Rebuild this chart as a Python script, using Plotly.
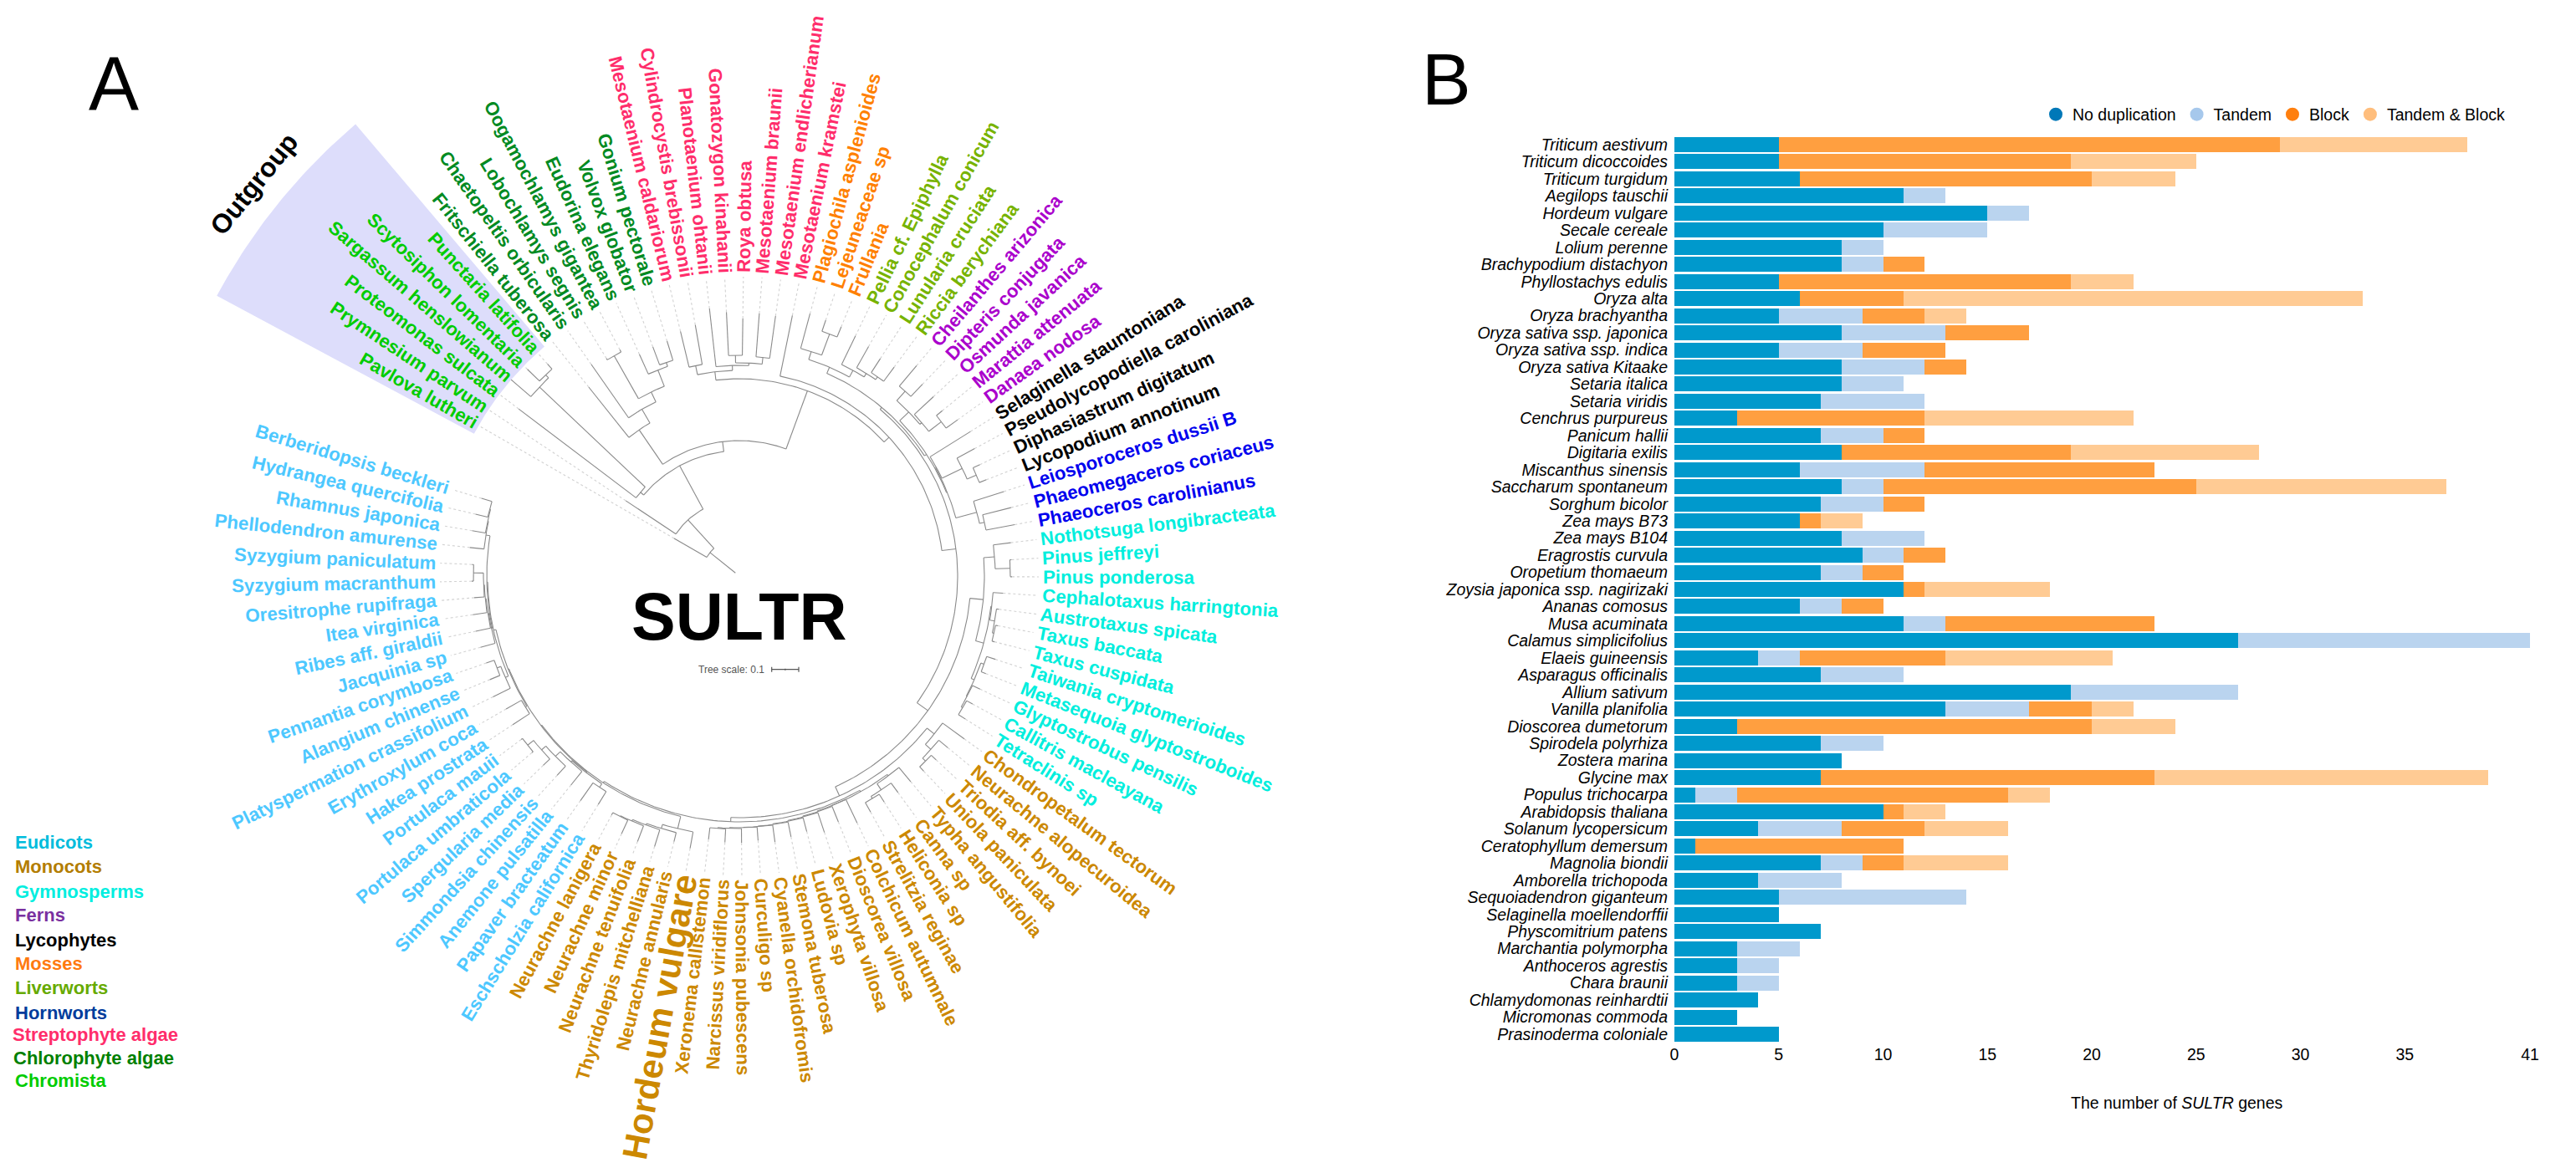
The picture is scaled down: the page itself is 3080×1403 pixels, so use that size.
import math
import plotly.graph_objects as go

W, H = 3080, 1403

# ---------- Panel B data ----------
species = ["Triticum aestivum","Triticum dicoccoides","Triticum turgidum","Aegilops tauschii","Hordeum vulgare",
 "Secale cereale","Lolium perenne","Brachypodium distachyon","Phyllostachys edulis","Oryza alta","Oryza brachyantha",
 "Oryza sativa ssp. japonica","Oryza sativa ssp. indica","Oryza sativa Kitaake","Setaria italica","Setaria viridis",
 "Cenchrus purpureus","Panicum hallii","Digitaria exilis","Miscanthus sinensis","Saccharum spontaneum","Sorghum bicolor",
 "Zea mays B73","Zea mays B104","Eragrostis curvula","Oropetium thomaeum","Zoysia japonica ssp. nagirizaki","Ananas comosus",
 "Musa acuminata","Calamus simplicifolius","Elaeis guineensis","Asparagus officinalis","Allium sativum","Vanilla planifolia",
 "Dioscorea dumetorum","Spirodela polyrhiza","Zostera marina","Glycine max","Populus trichocarpa","Arabidopsis thaliana",
 "Solanum lycopersicum","Ceratophyllum demersum","Magnolia biondii","Amborella trichopoda","Sequoiadendron giganteum",
 "Selaginella moellendorffii","Physcomitrium patens","Marchantia polymorpha","Anthoceros agrestis","Chara braunii",
 "Chlamydomonas reinhardtii","Micromonas commoda","Prasinoderma coloniale"]
no_dup = [5,5,6,11,15,10,8,8,5,6,5,8,5,8,8,7,3,7,8,6,8,7,6,8,9,7,11,6,11,27,4,7,19,13,3,7,8,7,1,10,4,1,7,4,5,5,7,3,3,3,4,3,5]
tandem = [0,0,0,2,2,5,2,2,0,0,4,5,4,4,3,5,0,3,0,6,2,3,0,4,2,2,0,2,2,14,2,4,8,4,0,3,0,0,2,0,4,0,2,4,9,0,0,3,2,2,0,0,0]
block  = [24,14,14,0,0,0,0,2,14,5,3,4,4,2,0,0,9,2,11,11,15,2,1,0,2,2,1,2,10,0,7,0,0,3,17,0,0,16,13,1,4,10,2,0,0,0,0,0,0,0,0,0,0]
both   = [9,6,4,0,0,0,0,0,3,22,2,0,0,0,0,0,10,0,9,0,12,0,2,0,0,0,6,0,0,0,8,0,0,2,4,0,0,16,2,2,4,0,5,0,0,0,0,0,0,0,0,0,0]
series_names = ["No duplication","Tandem","Block","Tandem & Block"]
x_ticks = [0,5,10,15,20,25,30,35,41]

# ---------- Panel A data (tree leaves clockwise, grouped by lineage) ----------
chromista = ["Pavlova lutheri","Prymnesium parvum","Proteomonas sulcata","Sargassum henslowianum","Scytosiphon lomentaria","Punctaria latifolia"]
chlorophyte = ["Fritschiella tuberosa","Chaetopeltis orbicularis","Lobochlamys segnis","Oogamochlamys gigantea","Eudorina elegans","Volvox globator","Gonium pectorale"]
streptophyte = ["Mesotaenium caldariorum","Cylindrocystis brebissonii","Planotaenium ohtanii","Gonatozygon kinahanii","Roya obtusa","Mesotaenium braunii","Mesotaenium endlicherianum","Mesotaenium kramstei"]
mosses = ["Plagiochila asplenioides","Lejeuneaceae sp","Frullania"]
liverworts = ["Pellia cf. Epiphylla","Conocephalum conicum","Lunularia cruciata","Riccia berychiana"]
ferns = ["Cheilanthes arizonica","Dipteris conjugata","Osmunda javanica","Marattia attenuata","Danaea nodosa"]
lycophytes = ["Selaginella stauntoniana","Pseudolycopodiella caroliniana","Diphasiastrum digitatum","Lycopodium annotinum"]
hornworts = ["Leiosporoceros dussii B","Phaeomegaceros coriaceus","Phaeoceros carolinianus"]
gymnosperms = ["Nothotsuga longibracteata","Pinus jeffreyi","Pinus ponderosa","Cephalotaxus harringtonia","Austrotaxus spicata","Taxus baccata","Taxus cuspidata","Taiwania cryptomerioides","Metasequoia glyptostroboides","Glyptostrobus pensilis","Callitris macleayana","Tetraclinis sp"]
monocots = ["Chondropetalum tectorum","Neurachne alopecuroidea","Triodia aff. bynoei","Uniola paniculata","Typha angustifolia","Canna sp","Heliconia sp","Strelitzia reginae","Colchicum autumnale","Dioscorea villosa","Xerophyta villosa","Ludovia sp","Stemona tuberosa","Cyanella orchidofromis","Curculigo sp","Johnsonia pubescens","Narcissus viridiflorus","Xeronema callistemon","Hordeum vulgare","Neurachne annularis","Thyridolepis mitchelliana","Neurachne tenuifolia","Neurachne minor","Neurachne lanigera"]
eudicots = ["Eschscholzia californica","Papaver bracteatum","Anemone pulsatilla","Simmondsia chinensis","Spergularia media","Portulaca umbraticola","Portulaca mauii","Hakea prostrata","Erythroxylum coca","Platyspermation crassifolium","Alangium chinense","Pennantia corymbosa","Jacquinia sp","Ribes aff. giraldii","Itea virginica","Oresitrophe rupifraga","Syzygium macranthum","Syzygium paniculatum","Phellodendron amurense","Rhamnus japonica","Hydrangea quercifolia","Berberidopsis beckleri"]
lineage_key = ["Eudicots","Monocots","Gymnosperms","Ferns","Lycophytes","Mosses","Liverworts","Hornworts","Streptophyte algae","Chlorophyte algae","Chromista"]

# Node depth: [node depth, child, child...]; a bare number is a leaf's tip depth.
t_chromista = [155, 331, [329, 360, [334, 354, 342]]]
t_chloro = [212, 289, [231, 309, [244, [303, 305, 306], [265, 291, [270, 293, 294]]]]]
t_zygnema = [246, [257, 301, 305], [252, 322, [255, [264, 316, 308], [263, 315, 314]]]]
t_mosses = [282, 325, [309, 323, 322]]
t_liver = [281, 319, [286, 315, [290, 310, 311]]]
t_ferns = [282, [297, 329, 317], [285, 316, [304, 313, 321]]]
t_lyco = [269, 326, [296, 320, [308, 317, 317]]]
t_horn = [294, 332, [300, 335, 335]]
t_pinaceae = [306, 327, [324, 326, 326]]
t_taxa = [304, 316, [310, 313, [312, 315, 315]]]
t_cupress = [307, [311, 322, 317], [308, 318, [310, 318, 320]]]
t_gymn = [293, t_pinaceae, [303, t_taxa, t_cupress]]
t_mono_a = [300, 332, [309, 323, [314, 322, 321]]]
t_mono_b = [298, 320, [307, 321, [310, 321, 323]]]
t_mono_c = [296, 327, [297, 317, [298, 323, [299, 316, [300, 318, [300.5, 321, [301, 317, [302, 319, [303, 319, 317]]]]]]]]]
t_poales = [311, 331, [316, 327, [318, 339, [320, 340, [321, 339, 324]]]]]
t_eud1 = [298, [303, 321, 329], [300, 321, [308, 323, [315, 326, [324, 326, 326]]]]]
t_eud2 = [298, [300, 324, 321], [301, [305, 328, [310, 323, 320]],
          [302, [303, 321, [304, 322, [305, 322, [306, 318, [318, 320, 320]]]]], [307, 324, [308, 324, [309, 324, 322]]]]]]
t_angio = [289, t_mono_a, [294, [296, t_mono_b, t_mono_c], [296, t_poales, [297, t_eud1, t_eud2]]]]
t_land = [261, [264, [272, t_mosses, t_liver], [267, t_ferns, [268, t_lyco, t_horn]]], [277, t_gymn, t_angio]]
tree = [45, 90, [91, 163, [150, t_chromista, [162, t_chloro, [236, t_zygnema, [244, 318, t_land]]]]]]

# ---------- Geometry and styles ----------
CX, CY = 884, 689
R_LABEL = 363
R_DASH = 358
TH0 = 210.0
STEP = 3.575
FONT = "Liberation Sans"
LABEL_SIZE = 22.3

ARIAL_BOLD = dict(zip("abcdefghijklmnopqrstuvwxyz",
    [556,611,556,611,556,333,611,611,278,278,556,278,889,611,611,611,611,389,556,333,611,556,778,556,556,500]))
ARIAL_BOLD.update(dict(zip("ABCDEFGHIJKLMNOPQRSTUVWXYZ",
    [722,722,722,722,667,611,778,722,278,556,722,611,833,722,778,667,778,722,667,611,722,667,944,667,667,611])))
ARIAL_BOLD.update({" ": 278, ".": 278})

def text_w(s, size):
    return sum(ARIAL_BOLD.get(c, 556) for c in s) * size / 1000

def pol(r, th):
    a = math.radians(th)
    return CX + r * math.cos(a), CY + r * math.sin(a)

groups = [(chromista,"#00CC00"),(chlorophyte,"#008A22"),(streptophyte,"#FF2D6B"),(mosses,"#FF8000"),(liverworts,"#77B300"),
          (ferns,"#AA00CC"),(lycophytes,"#000000"),(hornworts,"#0000EE"),(gymnosperms,"#00EEDD"),(monocots,"#CC8800"),(eudicots,"#4DC8FF")]
key_colors = ["#00BCDC","#B37D00","#00EEE0","#7A30A0","#000000","#FF7A10","#66AA00","#003C9C","#FF2D6B","#008000","#00CC00"]
leaves, leaf_colors = [], []
for names, col in groups:
    leaves += names
    leaf_colors += [col] * len(names)

sx, sy, dx, dy = [], [], [], []
counter = [0]

def seg(xs, ys, r0, r1, th):
    a, b = pol(r0, th), pol(r1, th)
    xs += [a[0], b[0], None]
    ys += [a[1], b[1], None]

def walk(node):
    if not isinstance(node, list):
        th = TH0 + STEP * counter[0]
        counter[0] += 1
        return th, node
    depth, kids = node[0], node[1:]
    info = [walk(k) for k in kids]
    lo, hi = info[0][0], info[-1][0]
    for kid, (th, d) in zip(kids, info):
        seg(sx, sy, depth, d, th)
        if not isinstance(kid, list):
            seg(dx, dy, d, R_DASH, th)
    n = max(2, int(hi - lo))
    for i in range(n + 1):
        p = pol(depth, lo + (hi - lo) * i / n)
        sx.append(p[0]); sy.append(p[1])
    sx.append(None); sy.append(None)
    return (lo + hi) / 2, depth

root_th, root_d = walk(tree)
seg(sx, sy, 6, root_d, root_th)

fig = go.Figure()

# Outgroup wedge spanning the Chromista clade
th_a = TH0 - STEP / 2
th_b = TH0 + STEP * (len(chromista) - 0.5)
wx, wy = [], []
for i in range(41):
    p = pol(360, th_a + (th_b - th_a) * i / 40); wx.append(p[0]); wy.append(p[1])
for i in range(41):
    p = pol(709, th_b - (th_b - th_a) * i / 40); wx.append(p[0]); wy.append(p[1])
fig.add_trace(go.Scatter(x=wx, y=wy, mode="lines", fill="toself", fillcolor="#DDDDFB", line=dict(width=0),
                         hoverinfo="skip", showlegend=False, xaxis="x", yaxis="y"))
fig.add_trace(go.Scatter(x=dx, y=dy, mode="lines", line=dict(color="#D2D2D2", width=1.1, dash="3px,3px"),
                         hoverinfo="skip", showlegend=False, xaxis="x", yaxis="y"))
fig.add_trace(go.Scatter(x=sx, y=sy, mode="lines", line=dict(color="#8A8A8A", width=1.1),
                         hoverinfo="skip", showlegend=False, xaxis="x", yaxis="y"))
# Tree scale bar
bar_x0, bar_x1, bar_y = 922.7, 955, 800.7
fig.add_trace(go.Scatter(
    x=[bar_x0, bar_x1, None, bar_x0, bar_x0, None, bar_x1, bar_x1, None, (bar_x0+bar_x1)/2, (bar_x0+bar_x1)/2],
    y=[bar_y, bar_y, None, bar_y-3, bar_y+3, None, bar_y-3, bar_y+3, None, bar_y-1, bar_y+1],
    mode="lines", line=dict(color="#555555", width=1.2), hoverinfo="skip", showlegend=False, xaxis="x", yaxis="y"))

# Stacked bars
bar_cols = ["#0099CC", "#BAD4EF", "#FF9F40", "#FFCB94"]
key_cols = ["#0078B8", "#A6C8EC", "#FF7F0E", "#FFBE7D"]
for name, vals, col in zip(series_names, [no_dup, tandem, block, both], bar_cols):
    fig.add_trace(go.Bar(y=species, x=vals, name=name, orientation="h", marker=dict(color=col, line=dict(width=0)),
                         showlegend=False, xaxis="x2", yaxis="y2"))
for name, col in zip(series_names, key_cols):
    fig.add_trace(go.Scatter(x=[None], y=[None], name=name, mode="markers",
                             marker=dict(color=col, size=17, symbol="circle"), xaxis="x2", yaxis="y2"))

ann = []
for i, (name, col) in enumerate(zip(leaves, leaf_colors)):
    th = TH0 + STEP * i
    size = 42 if name == "Hordeum vulgare" else LABEL_SIZE
    px, py = pol(R_LABEL + text_w(name, size) / 2, th)
    if th < 270:
        ang = th - 180
    elif th < 450:
        ang = th - 360
    else:
        ang = th - 540
    ann.append(dict(x=px, y=py, xref="x", yref="y", text=f"<b>{name}</b>", showarrow=False, xanchor="center", yanchor="middle",
                    textangle=ang, font=dict(family=FONT, size=size, color=col)))

def label(x, y, text, size, color="#000000", anchor="center", angle=0):
    ann.append(dict(x=x, y=y, xref="x", yref="y", text=text, showarrow=False, xanchor=anchor, yanchor="middle",
                    textangle=angle, font=dict(family=FONT, size=size, color=color)))

key_y = [1007, 1036, 1066, 1094, 1124, 1152, 1181, 1211, 1237, 1265, 1292]
key_x = [16, 16, 16, 16, 16, 16, 16, 16, 13, 14, 16]
for name, col, kx, ky in zip(lineage_key, key_colors, key_x, key_y):
    label(kx, ky, f"<b>{name}</b>", 22, col, "left")

mid = (th_a + th_b) / 2
ox, oy = pol(746, mid)
label(ox, oy, "<b>Outgroup</b>", 32, "#000000", "center", mid - 270)
label(136, 100, "A", 90)
label(1729, 94, "B", 88)
label(883, 737, "<b>SULTR</b>", 79)
label(874, 801, "Tree scale: 0.1", 12, "#555555")
label(2603, 1319, "The number of <i>SULTR</i> genes", 19.5)

row_top = 162.8
row_bot = 1247.2
fig.update_layout(
    width=W, height=H, margin=dict(l=0, r=0, t=0, b=0, autoexpand=False), paper_bgcolor="white", plot_bgcolor="white",
    barmode="stack", bargap=0.12, annotations=ann, font=dict(family=FONT, size=19.5, color="#000000"),
    hovermode=False,
    xaxis=dict(domain=[0, 1], range=[0, W], visible=False, fixedrange=True),
    yaxis=dict(domain=[0, 1], range=[H, 0], visible=False, fixedrange=True),
    xaxis2=dict(domain=[2002 / W, 3025 / W], range=[0, 41], tickvals=x_ticks, ticktext=[str(v) for v in x_ticks], anchor="y2",
                showgrid=False, zeroline=False, showline=False, ticks="", tickfont=dict(size=19.5)),
    yaxis2=dict(domain=[1 - row_bot / H, 1 - row_top / H], categoryorder="array", categoryarray=species, autorange="reversed",
                tickmode="array", tickvals=species, ticktext=[f"<i>{s}</i>" for s in species], anchor="x2",
                showgrid=False, zeroline=False, showline=False, ticks="", ticklabelstandoff=7, tickfont=dict(size=19.5)),
    legend=dict(orientation="h", x=2438 / W, xanchor="left", y=1 - 137 / H, yanchor="middle", font=dict(size=19.5),
                traceorder="normal", bgcolor="rgba(0,0,0,0)", itemclick=False, itemdoubleclick=False),
)

fig.write_html("out.html", config={"displayModeBar": False},
               post_script="document.body.style.margin='0';document.body.style.overflow='hidden';")
